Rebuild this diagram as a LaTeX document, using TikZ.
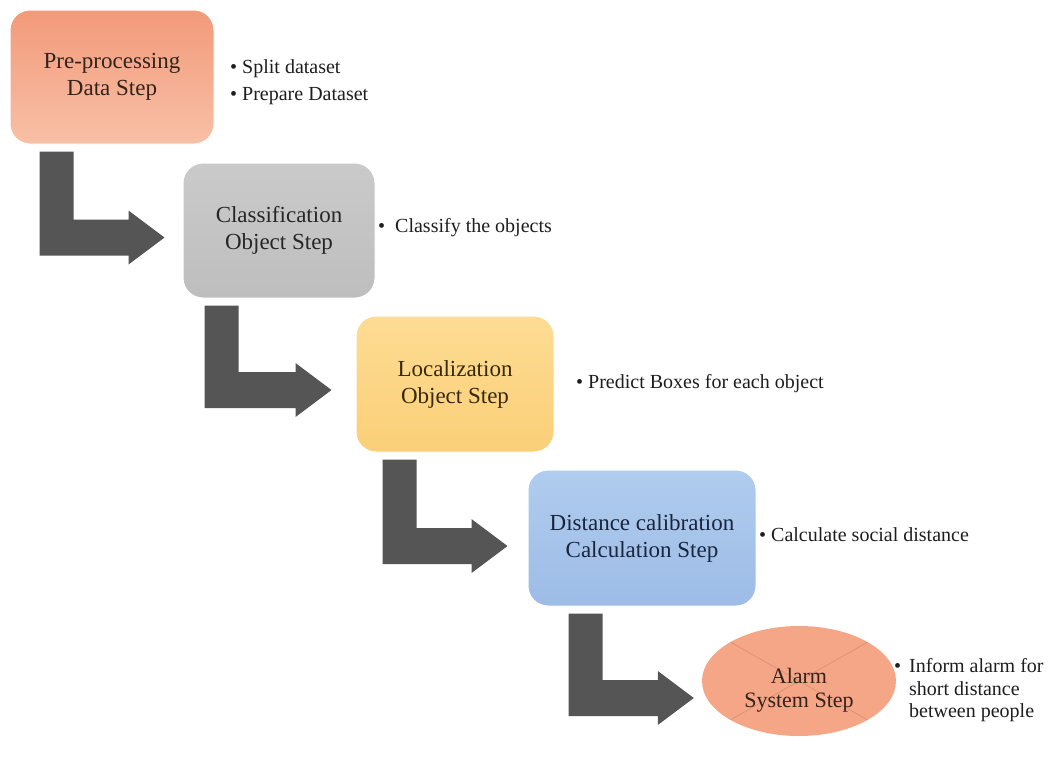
\documentclass[tikz,border=0pt]{standalone}
\usepackage{fontspec}
\setmainfont{Liberation Serif}
\usetikzlibrary{shapes.geometric,calc}
\definecolor{orA}{HTML}{F29A7A}
\definecolor{orB}{HTML}{F8C0A6}
\definecolor{grA}{HTML}{CACACA}
\definecolor{grB}{HTML}{BEBEBE}
\definecolor{yeA}{HTML}{FDDC93}
\definecolor{yeB}{HTML}{FBCF78}
\definecolor{blA}{HTML}{B0CCEE}
\definecolor{blB}{HTML}{9DBCE6}
\definecolor{elFill}{HTML}{F4A686}
\definecolor{elLine}{HTML}{DF9176}
\definecolor{arrowGray}{HTML}{555555}
\definecolor{txtA}{HTML}{33231C}
\definecolor{txtB}{HTML}{262626}
\definecolor{txtC}{HTML}{36290C}
\definecolor{txtD}{HTML}{1A253E}
\definecolor{bulTxt}{HTML}{1E1E1E}
\tikzset{
  stepbox/.style={rectangle, rounded corners=20pt, draw=white, line width=1pt,
    align=center, inner sep=0pt, font=\fontsize{23}{27}\selectfont},
  bul/.style={anchor=west, inner sep=0pt, text height=14pt, text depth=4pt,
    text=bulTxt, font=\fontsize{20}{27}\selectfont},
  arrowfill/.style={fill=arrowGray},
}
% #1 from node, #2 to node, #3 x offset of bar, #4 gap before tip, #5 tip drop below centre
\newcommand\blockarrow[5]{%
  \fill[arrowfill] let \p1=(#1.south west), \p2=(#2.west) in
    (\x1+#3pt, \y1-7pt) -- (\x1+#3pt+34pt, \y1-7pt)
    -- (\x1+#3pt+34pt, \y2-#5pt+18pt) -- (\x2-#4pt-36pt, \y2-#5pt+18pt)
    -- (\x2-#4pt-36pt, \y2-#5pt+27pt) -- (\x2-#4pt, \y2-#5pt)
    -- (\x2-#4pt-36pt, \y2-#5pt-27pt) -- (\x2-#4pt-36pt, \y2-#5pt-18pt)
    -- (\x1+#3pt, \y2-#5pt-18pt) -- cycle;}
\begin{document}
\begin{tikzpicture}[x=1pt,y=-1pt]
\useasboundingbox[fill=white] (0,0) rectangle (1053,756);

\node[stepbox, top color=orA, bottom color=orB, text=txtA,
  minimum width=204pt, minimum height=134pt] (b1) at (112,77) {Pre-processing\\Data Step};
\node[stepbox, top color=grA, bottom color=grB, text=txtB,
  minimum width=192pt, minimum height=135pt] (b2) at (279,230.5) {Classification\\Object Step};
\node[stepbox, top color=yeA, bottom color=yeB, text=txtC,
  minimum width=198pt, minimum height=136pt] (b3) at (455,384) {Localization\\Object Step};
\node[stepbox, top color=blA, bottom color=blB, text=txtD,
  minimum width=228pt, minimum height=136pt] (b4) at (642,538) {Distance calibration\\Calculation Step};
\node[ellipse, fill=elFill, inner sep=0pt, minimum width=194pt, minimum height=110pt,
  path picture={
    \draw[elLine, line width=0.8pt] (path picture bounding box.north west) -- (path picture bounding box.south east);
    \draw[elLine, line width=0.8pt] (path picture bounding box.north east) -- (path picture bounding box.south west);
  }] (b5) at (799,681) {};
\node[align=center, inner sep=0pt, text=txtA, font=\fontsize{22}{24}\selectfont] (b5t) at (799,690) {Alarm\\System Step};

\blockarrow{b1}{b2}{30}{18}{7}
\blockarrow{b2}{b3}{22}{24}{6}
\blockarrow{b3}{b4}{27}{20}{8}
\blockarrow{b4}{b5}{41}{8}{17}

\node[bul] (l1a) at (230,68) {\textbullet\hspace{5pt}Split dataset};
\node[bul] (l1b) at (230,95) {\textbullet\hspace{5pt}Prepare Dataset};
\node[bul] (l2) at (378,227) {\textbullet\hspace{10pt}Classify the objects};
\node[bul] (l3) at (576,383) {\textbullet\hspace{5pt}Predict Boxes for each object};
\node[bul] (l4) at (759,536) {\textbullet\hspace{5pt}Calculate social distance};
\node[bul] (l5a) at (894,667) {\textbullet\hspace{8pt}Inform alarm for};
\node[bul] (l5b) at (909,690) {short distance};
\node[bul] (l5c) at (909,712) {between people};
\end{tikzpicture}
\end{document}
